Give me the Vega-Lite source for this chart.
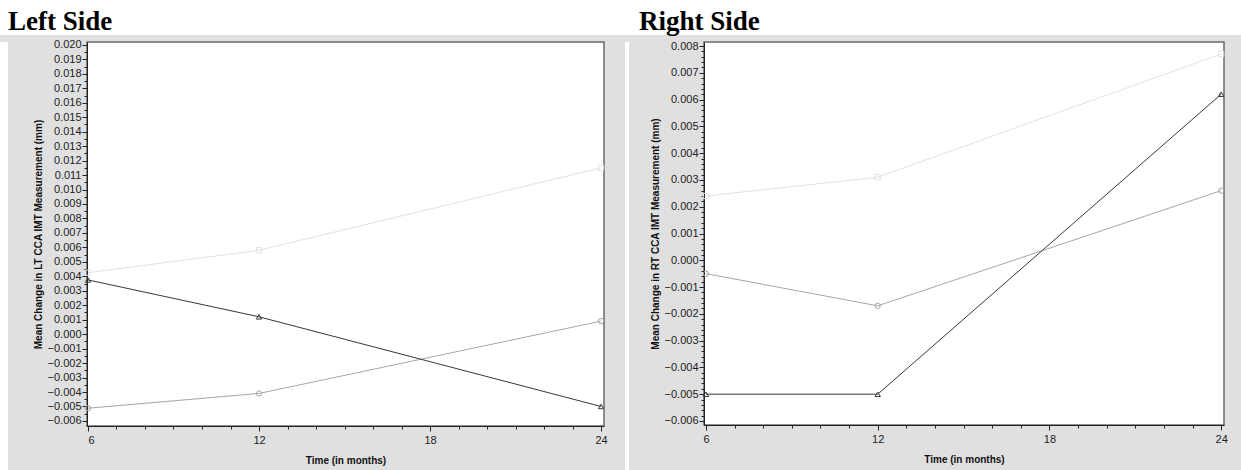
{
  "$schema": "https://vega.github.io/schema/vega-lite/v6.json",
  "background": "#e0e0e0",
  "padding": {"left": 0, "top": 0, "right": 16, "bottom": 4},
  "spacing": 3,
  "config": {
    "view": {"stroke": null},
    "font": "Liberation Sans",
    "axis": {"labelFont": "Liberation Sans", "titleFont": "Liberation Sans", "labelFontSize": 11, "titleFontSize": 10, "titleFontWeight": "bold", "labelColor": "#222", "titleColor": "#111", "domainColor": "#222", "tickColor": "#222", "grid": false}
  },
  "datasets": {
    "d": [
      {"side": "L", "series": "light", "month": 6, "value": 0.00425},
      {"side": "L", "series": "light", "month": 12, "value": 0.0058},
      {"side": "L", "series": "light", "month": 24, "value": 0.0115},
      {"side": "L", "series": "medium", "month": 6, "value": -0.00512},
      {"side": "L", "series": "medium", "month": 12, "value": -0.0041},
      {"side": "L", "series": "medium", "month": 24, "value": 0.0009},
      {"side": "L", "series": "dark", "month": 6, "value": 0.00375},
      {"side": "L", "series": "dark", "month": 12, "value": 0.0012},
      {"side": "L", "series": "dark", "month": 24, "value": -0.005},
      {"side": "R", "series": "light", "month": 6, "value": 0.0024},
      {"side": "R", "series": "light", "month": 12, "value": 0.0031},
      {"side": "R", "series": "light", "month": 24, "value": 0.0077},
      {"side": "R", "series": "medium", "month": 6, "value": -0.0005},
      {"side": "R", "series": "medium", "month": 12, "value": -0.0017},
      {"side": "R", "series": "medium", "month": 24, "value": 0.0026},
      {"side": "R", "series": "dark", "month": 6, "value": -0.005},
      {"side": "R", "series": "dark", "month": 12, "value": -0.005},
      {"side": "R", "series": "dark", "month": 24, "value": 0.0062}
    ]
  },
  "vconcat": [
    {
      "width": 1241,
      "height": 35,
      "view": {"fill": "white", "stroke": null},
      "data": {"values": [{"t": "Left Side"}, {"t": "Right Side"}]},
      "mark": {"type": "text", "align": "left", "baseline": "middle", "font": "Liberation Serif", "fontSize": 27, "fontWeight": "bold", "color": "black", "dy": 4},
      "encoding": {
        "x": {"field": "t", "type": "nominal", "bandPosition": 0, "axis": null, "scale": {"type": "band", "paddingOuter": 0.0127, "paddingInner": 0.0587}},
        "text": {"field": "t"}
      }
    },
    {
      "spacing": 17,
      "hconcat": [
        {
          "spacing": 24,
          "hconcat": [
            {
              "width": 8,
              "height": 432,
              "view": {"fill": "white", "stroke": null},
              "data": {"values": []},
              "mark": "point",
              "encoding": {}
            },
            {
              "width": 517,
              "height": 384,
              "view": {"fill": "white", "stroke": "#6a6a6a", "strokeWidth": 1.5},
              "data": {"name": "d"},
              "transform": [{"filter": "datum.side === 'L'"}],
              "layer": [
                {
                  "mark": {"type": "line", "strokeWidth": 1},
                  "encoding": {
                    "x": {"field": "month", "type": "quantitative", "scale": {"domain": [5.965, 24.105], "nice": false, "zero": false}, "axis": {"values": [6, 12, 18, 24], "tickSize": 5, "labelPadding": 3, "title": "Time (in months)", "titlePadding": 10}},
                    "y": {"field": "value", "type": "quantitative", "scale": {"domain": [-0.00635, 0.0202], "nice": false, "zero": false}, "axis": {"values": [-0.006, -0.005, -0.004, -0.003, -0.002, -0.001, 0, 0.001, 0.002, 0.003, 0.004, 0.005, 0.006, 0.007, 0.008, 0.009, 0.01, 0.011, 0.012, 0.013, 0.014, 0.015, 0.016, 0.017, 0.018, 0.019, 0.02], "format": ".3f", "tickSize": 5, "labelPadding": 1, "title": "Mean Change in LT CCA IMT Measurement (mm)", "titlePadding": 4}},
                    "color": {"field": "series", "type": "nominal", "scale": {"domain": ["light", "medium", "dark"], "range": ["#e2e2e2", "#a6a6a6", "#383838"]}, "legend": null}
                  }
                },
                {
                  "mark": {"type": "point", "filled": false, "size": 28, "opacity": 1, "strokeWidth": 1},
                  "encoding": {
                    "x": {"field": "month", "type": "quantitative", "axis": {"values": [7, 8, 9, 10, 11, 13, 14, 15, 16, 17, 19, 20, 21, 22, 23], "labels": false, "domain": false, "tickSize": 3, "title": null, "orient": "bottom"}},
                    "y": {"field": "value", "type": "quantitative", "axis": {"values": [-0.0055, -0.0045, -0.0035, -0.0025, -0.0015, -0.0005, 0.0005, 0.0015, 0.0025, 0.0035, 0.0045, 0.0055, 0.0065, 0.0075, 0.0085, 0.0095, 0.0105, 0.0115, 0.0125, 0.0135, 0.0145, 0.0155, 0.0165, 0.0175, 0.0185, 0.0195], "labels": false, "domain": false, "tickSize": 3, "title": null, "orient": "left"}},
                    "color": {"field": "series", "type": "nominal", "legend": null},
                    "shape": {"field": "series", "type": "nominal", "scale": {"domain": ["light", "medium", "dark"], "range": ["square", "circle", "triangle-up"]}, "legend": null}
                  }
                }
              ],
              "resolve": {"axis": {"x": "independent", "y": "independent"}}
            }
          ]
        },
        {
          "spacing": 20,
          "hconcat": [
            {
              "width": 4,
              "height": 432,
              "view": {"fill": "white", "stroke": null},
              "data": {"values": []},
              "mark": "point",
              "encoding": {}
            },
            {
              "width": 520,
              "height": 383,
              "view": {"fill": "white", "stroke": "#6a6a6a", "strokeWidth": 1.5},
              "data": {"name": "d"},
              "transform": [{"filter": "datum.side === 'R'"}],
              "layer": [
                {
                  "mark": {"type": "line", "strokeWidth": 1},
                  "encoding": {
                    "x": {"field": "month", "type": "quantitative", "scale": {"domain": [5.93, 24.1], "nice": false, "zero": false}, "axis": {"values": [6, 12, 18, 24], "tickSize": 5, "labelPadding": 3, "title": "Time (in months)", "titlePadding": 10}},
                    "y": {"field": "value", "type": "quantitative", "scale": {"domain": [-0.00615, 0.00815], "nice": false, "zero": false}, "axis": {"values": [-0.006, -0.005, -0.004, -0.003, -0.002, -0.001, 0, 0.001, 0.002, 0.003, 0.004, 0.005, 0.006, 0.007, 0.008], "format": ".3f", "tickSize": 5, "labelPadding": 1, "title": "Mean Change in RT CCA IMT Measurement (mm)", "titlePadding": 4}},
                    "color": {"field": "series", "type": "nominal", "scale": {"domain": ["light", "medium", "dark"], "range": ["#e2e2e2", "#a6a6a6", "#383838"]}, "legend": null}
                  }
                },
                {
                  "mark": {"type": "point", "filled": false, "size": 28, "opacity": 1, "strokeWidth": 1},
                  "encoding": {
                    "x": {"field": "month", "type": "quantitative", "axis": {"values": [7, 8, 9, 10, 11, 13, 14, 15, 16, 17, 19, 20, 21, 22, 23], "labels": false, "domain": false, "tickSize": 3, "title": null, "orient": "bottom"}},
                    "y": {"field": "value", "type": "quantitative", "axis": {"values": [-0.0058, -0.0056, -0.0054, -0.0052, -0.0048, -0.0046, -0.0044, -0.0042, -0.0038, -0.0036, -0.0034, -0.0032, -0.0028, -0.0026, -0.0024, -0.0022, -0.0018, -0.0016, -0.0014, -0.0012, -0.0008, -0.0006, -0.0004, -0.0002, 0.0002, 0.0004, 0.0006, 0.0008, 0.0012, 0.0014, 0.0016, 0.0018, 0.0022, 0.0024, 0.0026, 0.0028, 0.0032, 0.0034, 0.0036, 0.0038, 0.0042, 0.0044, 0.0046, 0.0048, 0.0052, 0.0054, 0.0056, 0.0058, 0.0062, 0.0064, 0.0066, 0.0068, 0.0072, 0.0074, 0.0076, 0.0078], "labels": false, "domain": false, "tickSize": 3, "title": null, "orient": "left"}},
                    "color": {"field": "series", "type": "nominal", "legend": null},
                    "shape": {"field": "series", "type": "nominal", "scale": {"domain": ["light", "medium", "dark"], "range": ["square", "circle", "triangle-up"]}, "legend": null}
                  }
                }
              ],
              "resolve": {"axis": {"x": "independent", "y": "independent"}}
            }
          ]
        }
      ]
    }
  ]
}
